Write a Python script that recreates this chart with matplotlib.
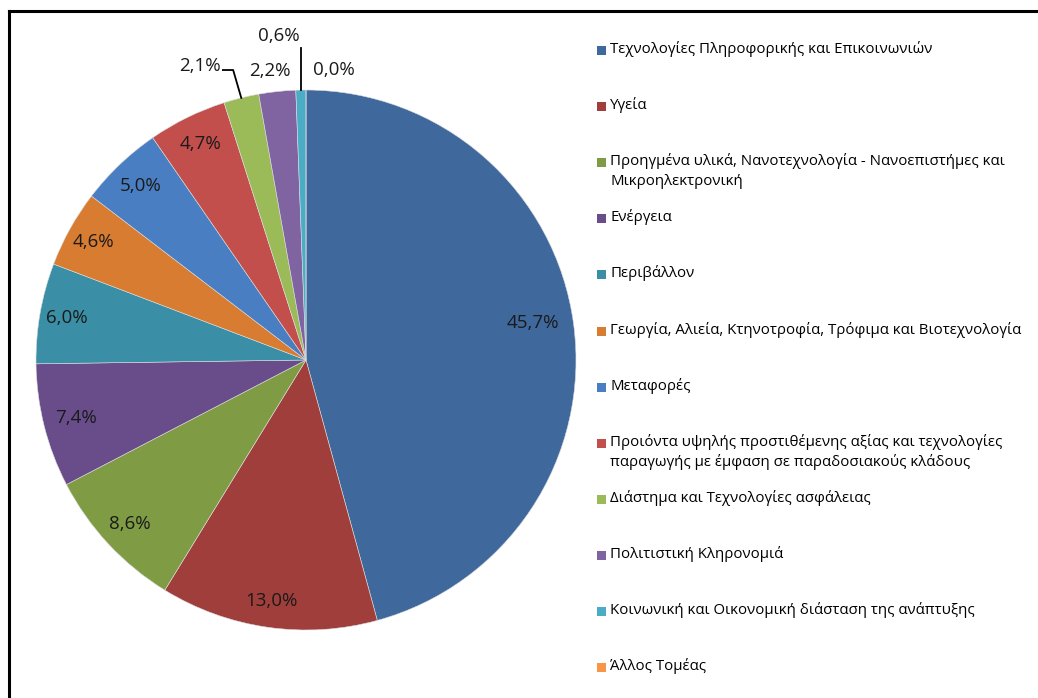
import numpy as np
import matplotlib.pyplot as plt
from matplotlib.lines import Line2D
from matplotlib.patches import Rectangle

plt.rcParams['font.family'] = ['Open Sans', 'DejaVu Sans']

# --- data ---
sectors = [
    'Τεχνολογίες Πληροφορικής και Επικοινωνιών',
    'Υγεία',
    'Προηγμένα υλικά, Νανοτεχνολογία - Νανοεπιστήμες και\nΜικροηλεκτρονική',
    'Ενέργεια',
    'Περιβάλλον',
    'Γεωργία, Αλιεία, Κτηνοτροφία, Τρόφιμα και Βιοτεχνολογία',
    'Μεταφορές',
    'Προιόντα υψηλής προστιθέμενης αξίας και τεχνολογίες\nπαραγωγής με έμφαση σε παραδοσιακούς κλάδους',
    'Διάστημα και Τεχνολογίες ασφάλειας',
    'Πολιτιστική Κληρονομιά',
    'Κοινωνική και Οικονομική διάσταση της ανάπτυξης',
    'Άλλος Τομέας',
]
shares = [45.7, 13.0, 8.6, 7.4, 6.0, 4.6, 5.0, 4.7, 2.1, 2.2, 0.6, 0.0]
colors = ['#3F689D', '#A03E3B', '#7F9C45', '#694D8A', '#3A8FA6', '#D77C31',
          '#4A7EC2', '#C34F4C', '#9BBB59', '#8064A2', '#4BACC6', '#F79646']

fig = plt.figure(figsize=(10.38, 6.98), dpi=100)
W, H = 1038, 698

# pie axes: centre (306,360) px, radius 270 px
ax = fig.add_axes([36 / W, (H - 630) / H, 540 / W, 540 / H])
wedges, _ = ax.pie(shares, colors=colors, startangle=90, counterclock=False,
                   radius=1.0, wedgeprops=dict(edgecolor='#DDDDDD', linewidth=0.4))
ax.set_xlim(-1, 1)
ax.set_ylim(-1, 1)
ax.set_aspect('equal')
ax.axis('off')

# label placement: (radius, angle shift in degrees)
placement = [(0.85, 1.5), (0.9, 0), (0.89, 0), (0.88, 0), (0.9, 0), (0.9, 0),
             (0.89, 0), (0.89, 0), (1.156, 6), (1.08, 1), (1.205, 3.7), (1.08, -5.5)]

for w, val, (r, da) in zip(wedges, shares, placement):
    ang = np.deg2rad((w.theta1 + w.theta2) / 2 + da)
    x, y = r * np.cos(ang), r * np.sin(ang)
    txt = f'{val:.1f}%'.replace('.', ',')
    ax.text(x, y, txt, ha='center', va='center', fontsize=13.5, color='#1a1a1a')

# leader lines for the 2,1% and 0,6% labels
w = wedges[8]
a = np.deg2rad((w.theta1 + w.theta2) / 2)
x0, y0 = np.cos(a), np.sin(a)
ax.plot([x0, x0 - 0.03, x0 - 0.068], [y0, 1.074, 1.074], color='black', lw=1.3,
        clip_on=False)
w = wedges[10]
a = np.deg2rad((w.theta1 + w.theta2) / 2)
x0, y0 = np.cos(a), np.sin(a)
ax.plot([x0, x0], [y0, 1.155], color='black', lw=1.3, clip_on=False)

# legend drawn by hand so two-line entries keep the slot spacing
for i, (name, c) in enumerate(zip(sectors, colors)):
    yp = 50 + i * 56.1
    fig.patches.append(Rectangle((597 / W, (H - yp - 5) / H), 9 / W, 9 / H,
                                 transform=fig.transFigure, facecolor=c,
                                 edgecolor='none'))
    fig.text(610 / W, (H - yp + 9) / H, name, ha='left', va='top',
             fontsize=10.8, color='black', linespacing=1.4)

# frame
fig.add_artist(Line2D([9 / W, 1], [(H - 11) / H] * 2, color='black', lw=2.2,
                      transform=fig.transFigure))
fig.add_artist(Line2D([9 / W] * 2, [0, (H - 11) / H], color='black', lw=2.2,
                      transform=fig.transFigure))

fig.savefig('out.png', dpi=100, facecolor='white')
